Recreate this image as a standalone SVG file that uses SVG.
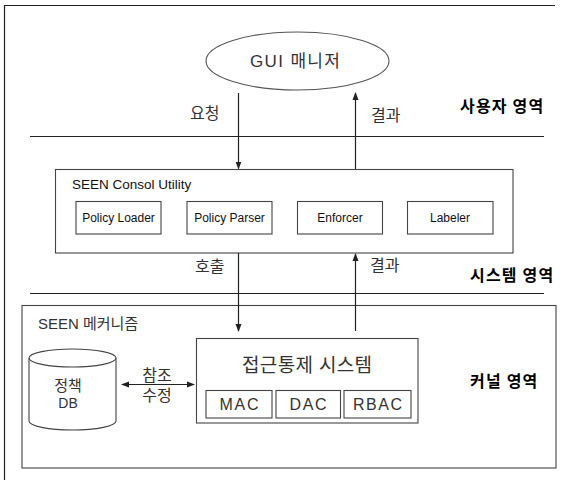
<svg xmlns="http://www.w3.org/2000/svg" width="565" height="480" viewBox="0 0 565 480">
<defs>
<marker id="ah" viewBox="0 0 8 8" refX="7" refY="4" markerWidth="8" markerHeight="8" markerUnits="userSpaceOnUse" orient="auto-start-reverse">
<path d="M0,1 L8,4 L0,7 Z" fill="#222"/>
</marker>
</defs>
<style>
.ln{stroke:#222;stroke-width:1.2;fill:none}
.bx{stroke:#444;stroke-width:1.1;fill:#fff}
.t{font-family:"Liberation Sans","Noto Sans CJK KR",sans-serif;fill:#111}
.k{font-family:"Liberation Sans","Noto Sans CJK KR",sans-serif;fill:#333}
.rg{font-family:"Noto Sans CJK KR","Liberation Sans",sans-serif;fill:#000;font-weight:bold;font-size:16px;letter-spacing:1.2px}
.c{text-anchor:middle}
</style>
<rect width="565" height="480" fill="#fff"/>
<g id="frame">
<path class="ln" d="M4.5,480 V5.5 H555"/>
<line class="ln" x1="30" y1="136.5" x2="544" y2="136.5"/>
<line class="ln" x1="30" y1="293.5" x2="544" y2="293.5"/>
</g>
<g id="gui">
<ellipse cx="297.5" cy="61" rx="91.5" ry="29" fill="#fff" stroke="#555" stroke-width="1.1"/>
<text class="k c" x="295" y="67" font-size="17" textLength="90" lengthAdjust="spacing">GUI 매니저</text>
</g>
<g id="consol">
<rect class="bx" x="55.5" y="169.5" width="457.5" height="83.5"/>
<text class="t" x="72" y="189" font-size="13.5">SEEN Consol Utility</text>
</g>
<g id="loader">
<rect class="bx" x="76" y="201.5" width="85" height="32.5"/>
<text class="t c" x="118.5" y="222" font-size="12">Policy Loader</text>
</g>
<g id="parser">
<rect class="bx" x="187" y="201.5" width="85" height="32.5"/>
<text class="t c" x="229.5" y="222" font-size="12">Policy Parser</text>
</g>
<g id="enforcer">
<rect class="bx" x="297.5" y="201.5" width="85" height="32.5"/>
<text class="t c" x="340" y="222" font-size="12">Enforcer</text>
</g>
<g id="labeler">
<rect class="bx" x="407.5" y="201.5" width="85.5" height="32.5"/>
<text class="t c" x="450" y="222" font-size="12">Labeler</text>
</g>
<g id="kernel">
<rect class="bx" x="22" y="305.5" width="534" height="162.5" fill="none"/>
<text class="k" x="38" y="329" font-size="15" fill="#111">SEEN 메커니즘</text>
</g>
<g id="db">
<path d="M29,358 V421 A43.5,9 0 0 0 116,421 V358" fill="#fff" stroke="#444" stroke-width="1.1"/>
<ellipse cx="72.5" cy="358" rx="43.5" ry="9" fill="#fff" stroke="#444" stroke-width="1.1"/>
<text class="k c" x="68" y="391" font-size="15">정책</text>
<text class="k c" x="68" y="408" font-size="14">DB</text>
</g>
<g id="acs">
<rect class="bx" x="196.5" y="338.5" width="221.5" height="84.5"/>
<text class="k c" x="307" y="372" font-size="19" textLength="130" lengthAdjust="spacing">접근통제 시스템</text>
</g>
<g id="mac">
<rect class="bx" x="206" y="390.5" width="66" height="27.5"/>
<text class="k c" x="239" y="410" font-size="16" textLength="39" lengthAdjust="spacing">MAC</text>
</g>
<g id="dac">
<rect class="bx" x="276" y="390.5" width="64.5" height="27.5"/>
<text class="k c" x="308" y="410" font-size="16" textLength="37" lengthAdjust="spacing">DAC</text>
</g>
<g id="rbac">
<rect class="bx" x="344" y="390.5" width="67" height="27.5"/>
<text class="k c" x="377.5" y="410" font-size="16" textLength="49" lengthAdjust="spacing">RBAC</text>
</g>
<g id="connectors">
<line class="ln" x1="238.5" y1="93" x2="238.5" y2="168.5" marker-end="url(#ah)"/>
<line class="ln" x1="355.5" y1="169" x2="355.5" y2="93" marker-end="url(#ah)"/>
<line class="ln" x1="238.5" y1="253" x2="238.5" y2="331" marker-end="url(#ah)"/>
<line class="ln" x1="355.5" y1="331" x2="355.5" y2="254" marker-end="url(#ah)"/>
<line class="ln" x1="122" y1="384.5" x2="194" y2="384.5" marker-start="url(#ah)" marker-end="url(#ah)"/>
</g>
<g id="labels">
<text class="k" x="190" y="119" font-size="16">요청</text>
<text class="k" x="371" y="121" font-size="16">결과</text>
<text class="k" x="195" y="272" font-size="16">호출</text>
<text class="k" x="370" y="271" font-size="16">결과</text>
<text class="k c" x="157" y="381" font-size="16">참조</text>
<text class="k c" x="157" y="401" font-size="16">수정</text>
<text class="rg" x="460" y="112">사용자 영역</text>
<text class="rg" x="470" y="281">시스템 영역</text>
<text class="rg" x="470" y="387">커널 영역</text>
</g>
</svg>
